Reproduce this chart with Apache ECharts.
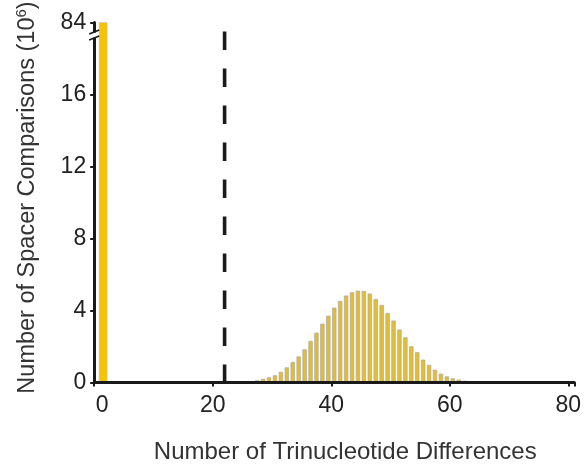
<!DOCTYPE html>
<html><head><meta charset="utf-8">
<script src="https://cdn.jsdelivr.net/npm/echarts@6/dist/echarts.min.js"></script>
<style>html,body{margin:0;padding:0;background:#fff}#c{width:585px;height:466px}</style>
</head><body><div id="c"></div>
<script>
// ---- data (counts in units of 10^6 spacer comparisons) ----
const zeroDiffs = [0];
const zeroCounts = [84];
const diffs = [27,28,29,30,31,32,33,34,35,36,37,38,39,40,41,42,43,44,45,46,47,48,49,50,51,52,53,54,55,56,57,58,59,60,61,62];
const counts = [0.10,0.18,0.27,0.38,0.57,0.82,1.12,1.43,1.82,2.29,2.75,3.25,3.69,4.14,4.51,4.81,4.99,5.08,5.07,4.92,4.62,4.29,3.84,3.42,2.92,2.49,1.99,1.66,1.25,0.96,0.69,0.47,0.32,0.21,0.14,0.08];
const xTickValues = [0,20,40,60,80];
const yTickValues = [0,4,8,12,16,84];
const cutoffDiff = [22];
const cutoffTop = [19.5];

// broken y axis: values above 16 are shown near the top (84 -> 20)
const breakLow = 16, breakHigh = 84, breakPos = 20;
function yMap(v){ return v > breakLow ? breakPos + (v - breakHigh) : v; }
function yLabel(p){ return p === breakPos ? String(breakHigh) : (p <= breakLow ? String(p) : ''); }

const FONT = 'Liberation Sans, Arial, Helvetica, sans-serif';

function barItem(offsetUnits, width, fill, stroke){
  return function(params, api){
    const x = api.value(0), y = api.value(1);
    const top = api.coord([x + offsetUnits, yMap(y)]);
    const base = api.coord([x + offsetUnits, 0]);
    return {type:'rect', shape:{x: top[0]-width/2, y: top[1], width: width, height: base[1]-top[1]},
      style:{fill: fill, stroke: stroke, lineWidth: 0.7}};
  };
}

const chart = echarts.init(document.getElementById('c'), null, {renderer:'canvas'});
chart.setOption({
  animation:false,
  backgroundColor:'#ffffff',
  grid:{left:94.2, right:10.7, top:22.5, bottom:83.5, containLabel:false, outerBoundsMode:'none'},
  xAxis:{
    type:'value', min:0, max:81, interval:20, z:5,
    name:'Number of Trinucleotide Differences', nameLocation:'middle', nameGap:58,
    nameTextStyle:{fontFamily:FONT, fontSize:24, color:'#333', padding:[0,0,0,22]},
    axisLine:{show:true, onZero:false, lineStyle:{color:'#1a1a1a', width:3}},
    axisTick:{show:true, inside:false, length:4, lineStyle:{color:'#1a1a1a', width:2}},
    axisLabel:{fontFamily:FONT, fontSize:23, color:'#222', margin:12,
      formatter:function(v){ return xTickValues.indexOf(v) < 0 ? '' : (v===0 ? '{z|0}' : String(v)); },
      rich:{z:{fontFamily:FONT, fontSize:23, color:'#222', padding:[0,0,0,16]}}},
    splitLine:{show:false}
  },
  yAxis:{
    type:'value', min:0, max:20, interval:4, z:5,
    name:'Number of Spacer Comparisons (10{sup|6})', nameLocation:'middle', nameGap:53, nameRotate:90,
    nameTextStyle:{fontFamily:FONT, fontSize:23.5, color:'#333', padding:[0,0,0,10],
      rich:{sup:{fontFamily:FONT, fontSize:15, color:'#333', verticalAlign:'top', padding:[0,0,12,0]}}},
    axisLine:{show:true, lineStyle:{color:'#1a1a1a', width:3}},
    axisTick:{show:true, inside:false, length:4, lineStyle:{color:'#1a1a1a', width:2}},
    axisLabel:{fontFamily:FONT, fontSize:23, color:'#222', margin:8, formatter:yLabel},
    splitLine:{show:false}
  },
  series:[
    {type:'custom', name:'zero', data: zeroDiffs.map((d,i)=>[d, zeroCounts[i]]),
      renderItem: barItem(1.5, 8, '#F7C300', '#c8c8c8'), z:3},
    {type:'custom', name:'dist', data: diffs.map((d,i)=>[d, counts[i]]),
      renderItem: barItem(0.5, 3.6, '#E5BE2E', '#a8a8a8'), z:3},
    {type:'line', name:'cutoff', data:[[cutoffDiff[0], cutoffTop[0]],[cutoffDiff[0], 0]],
      symbol:'none', z:4,
      lineStyle:{color:'#1a1a1a', width:3.6, type:[18.5,18.5]}}
  ]
});

// axis break symbol on the y axis, between 16 and 84
const pA = chart.convertToPixel({gridIndex:0}, [0, 19.3]);
const ax = pA[0], ay = pA[1];
chart.setOption({graphic:[
  {type:'rect', shape:{x:ax-3, y:ay-2.5, width:6, height:5}, style:{fill:'#fff'}, z:10},
  {type:'line', shape:{x1:ax-5, y1:ay-1, x2:ax+5, y2:ay-5}, style:{stroke:'#1a1a1a', lineWidth:1.6}, z:11},
  {type:'line', shape:{x1:ax-5, y1:ay+5, x2:ax+5, y2:ay+1}, style:{stroke:'#1a1a1a', lineWidth:1.6}, z:11}
]});
</script>
</body></html>
